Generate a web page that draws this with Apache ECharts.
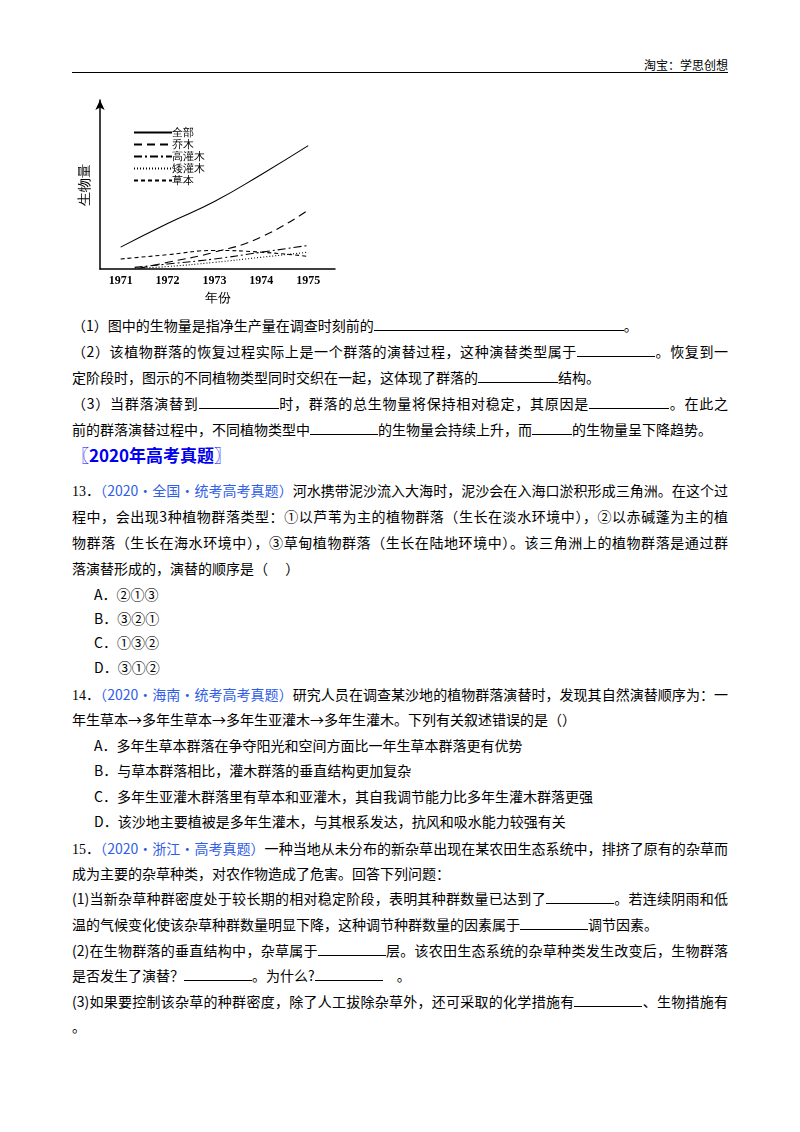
<!DOCTYPE html>
<html><head><meta charset="utf-8">
<script src="https://cdn.jsdelivr.net/npm/echarts@6/dist/echarts.min.js"></script>
<style>
body{margin:0;width:800px;height:1132px;background:#fff;position:relative;font-family:"Noto Sans CJK SC","Liberation Serif",serif;color:#000;}
.l{position:absolute;left:72px;width:656px;font-size:14px;line-height:18px;white-space:nowrap;}
.j{text-align:justify;text-align-last:justify;white-space:normal;}
.u{display:inline-block;border-bottom:1px solid #000;height:14px;vertical-align:baseline;}
.b{color:#2f5de8;}
.n{font-family:"Liberation Serif",serif;}
#chart{position:absolute;left:70px;top:95px;width:280px;height:215px;}
</style></head><body>
<div style="position:absolute;right:72px;top:56px;font-size:12px;">淘宝：学思创想</div>
<div style="position:absolute;left:72px;top:72px;width:656px;border-top:1.5px solid #000;"></div>
<div id="chart"></div>
<div class="l" style="top:316px">（1）图中的生物量是指净生产量在调查时刻前的<span class="u" style="width:250px"></span>。</div>
<div class="l j" style="top:342px">（2）该植物群落的恢复过程实际上是一个群落的演替过程，这种演替类型属于<span class="u" style="width:78px"></span>。恢复到一</div>
<div class="l" style="top:368px">定阶段时，图示的不同植物类型同时交织在一起，这体现了群落的<span class="u" style="width:80px"></span>结构。</div>
<div class="l j" style="top:394px">（3）当群落演替到<span class="u" style="width:80px"></span>时，群落的总生物量将保持相对稳定，其原因是<span class="u" style="width:80px"></span>。在此之</div>
<div class="l" style="top:420px">前的群落演替过程中，不同植物类型中<span class="u" style="width:68px"></span>的生物量会持续上升，而<span class="u" style="width:40px"></span>的生物量呈下降趋势。</div>
<div class="l" style="top:444px;font-size:17px;line-height:22px;font-weight:bold;color:#0000ee;">〖2020年高考真题〗</div>
<div class="l j" style="top:481px"><span class="n">13</span>．<span class="b">（2020·全国·统考高考真题）</span>河水携带泥沙流入大海时，泥沙会在入海口淤积形成三角洲。在这个过</div>
<div class="l j" style="top:507px">程中，会出现3种植物群落类型：①以芦苇为主的植物群落（生长在淡水环境中），②以赤碱蓬为主的植</div>
<div class="l j" style="top:533px">物群落（生长在海水环境中），③草甸植物群落（生长在陆地环境中）。该三角洲上的植物群落是通过群</div>
<div class="l" style="top:559px">落演替形成的，演替的顺序是（　 ）</div>
<div class="l" style="top:585px;left:94px">A．②①③</div>
<div class="l" style="top:609px;left:94px">B．③②①</div>
<div class="l" style="top:633px;left:94px">C．①③②</div>
<div class="l" style="top:658px;left:94px">D．③①②</div>
<div class="l j" style="top:685px"><span class="n">14</span>．<span class="b">（2020·海南·统考高考真题）</span>研究人员在调查某沙地的植物群落演替时，发现其自然演替顺序为：一</div>
<div class="l" style="top:710px">年生草本→多年生草本→多年生亚灌木→多年生灌木。下列有关叙述错误的是（）</div>
<div class="l" style="top:736px;left:94px">A．多年生草本群落在争夺阳光和空间方面比一年生草本群落更有优势</div>
<div class="l" style="top:761px;left:94px">B．与草本群落相比，灌木群落的垂直结构更加复杂</div>
<div class="l" style="top:787px;left:94px">C．多年生亚灌木群落里有草本和亚灌木，其自我调节能力比多年生灌木群落更强</div>
<div class="l" style="top:812px;left:94px">D．该沙地主要植被是多年生灌木，与其根系发达，抗风和吸水能力较强有关</div>
<div class="l j" style="top:839px"><span class="n">15</span>．<span class="b">（2020·浙江·高考真题）</span>一种当地从未分布的新杂草出现在某农田生态系统中，排挤了原有的杂草而</div>
<div class="l" style="top:864px">成为主要的杂草种类，对农作物造成了危害。回答下列问题：</div>
<div class="l j" style="top:889px">(1)当新杂草种群密度处于较长期的相对稳定阶段，表明其种群数量已达到了<span class="u" style="width:68px"></span>。若连续阴雨和低</div>
<div class="l" style="top:915px">温的气候变化使该杂草种群数量明显下降，这种调节种群数量的因素属于<span class="u" style="width:68px"></span>调节因素。</div>
<div class="l j" style="top:941px">(2)在生物群落的垂直结构中，杂草属于<span class="u" style="width:68px"></span>层。该农田生态系统的杂草种类发生改变后，生物群落</div>
<div class="l" style="top:966px">是否发生了演替？<span class="u" style="width:68px"></span>。为什么?<span class="u" style="width:68px"></span>　。</div>
<div class="l j" style="top:992px">(3)如果要控制该杂草的种群密度，除了人工拔除杂草外，还可采取的化学措施有<span class="u" style="width:68px"></span>、生物措施有</div>
<div class="l" style="top:1017px">。</div>
<script>
const years=[1971,1972,1973,1974,1975];
const total=[[1971,13],[1972,27],[1973,40],[1974,56],[1975,73]];
const tree=[[1971.4,0.5],[1972,4],[1973,10],[1974,19],[1975,35]];
const tallShrub=[[1971.3,1],[1972,3],[1973,6],[1974,10],[1975,14]];
const lowShrub=[[1971.3,0.5],[1972,1.5],[1973,4],[1974,7],[1975,10]];
const herb=[[1971,6],[1972,8.5],[1973,11],[1974,10],[1975,7.5]];
const names=['全部','乔木','高灌木','矮灌木','草本'];
const styles=['solid',[8,5],[8,3,2,3],[1,2],[4,3]];
const datas=[total,tree,tallShrub,lowShrub,herb];
const c=echarts.init(document.getElementById('chart'));
c.setOption({animation:false,
grid:{left:27,right:15,top:5,bottom:35},
legend:{orient:'vertical',left:58,top:27,itemWidth:38,itemHeight:10,itemGap:1,itemStyle:{opacity:0},
 textStyle:{fontSize:11,color:'#000',padding:[0,0,0,-5]},data:names},
xAxis:{type:'value',min:1970.56,max:1975.57,
 axisLine:{lineStyle:{color:'#000',width:1.5}},axisTick:{show:false},splitLine:{show:false},
 axisLabel:{customValues:years,formatter:v=>String(Math.round(v)),color:'#000',fontFamily:'Liberation Serif',fontWeight:'bold',fontSize:12,margin:6},
 name:'年份',nameLocation:'middle',nameGap:17,nameTextStyle:{fontSize:13,color:'#000'}},
yAxis:{type:'value',min:0,max:100,axisLabel:{show:false},axisTick:{show:false},splitLine:{show:false},
 axisLine:{show:true,symbol:['none','arrow'],symbolSize:[7,10],lineStyle:{color:'#000',width:1.5}},
 name:'生物量',nameLocation:'middle',nameRotate:90,nameGap:8,nameTextStyle:{fontSize:14,color:'#000'}},
series:datas.map((d,i)=>({name:names[i],type:'line',smooth:true,showSymbol:false,symbol:'none',data:d,
 lineStyle:{color:'#000',width:1.1,type:styles[i]},itemStyle:{color:'#000'}}))
});
</script>
</body></html>
